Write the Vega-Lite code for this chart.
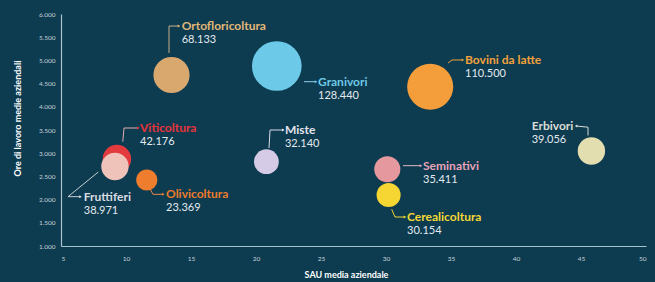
{
  "$schema": "https://vega.github.io/schema/vega-lite/v6.json",
  "width": 585,
  "height": 232,
  "autosize": {"type": "none"},
  "padding": {"left": 61, "top": 14, "right": 9, "bottom": 36},
  "background": "#0D3B50",
  "config": {
    "view": {"stroke": null},
    "font": "Lato",
    "locale": {"number": {"decimal": ",", "thousands": ".", "grouping": [3], "currency": ["€", ""]}}
  },
  "datasets": {
    "settori": [
      {"settore": "Ortofloricoltura", "sau": 13.5, "ore": 4685, "valore": 68133, "lx": 14.28, "ly": 5741},
      {"settore": "Granivori", "sau": 21.6, "ore": 4879, "valore": 128440, "lx": 24.77, "ly": 4541},
      {"settore": "Bovini da latte", "sau": 33.4, "ore": 4433, "valore": 110500, "lx": 36.08, "ly": 5009},
      {"settore": "Erbivori", "sau": 45.8, "ore": 3047, "valore": 39056, "lx": 41.21, "ly": 3586},
      {"settore": "Cerealicoltura", "sau": 30.2, "ore": 2099, "valore": 30154, "lx": 31.62, "ly": 1625},
      {"settore": "Seminativi", "sau": 30.1, "ore": 2653, "valore": 35411, "lx": 32.85, "ly": 2731},
      {"settore": "Miste", "sau": 20.8, "ore": 2817, "valore": 32140, "lx": 22.23, "ly": 3500},
      {"settore": "Viticoltura", "sau": 9.3, "ore": 2875, "valore": 42176, "lx": 11.08, "ly": 3543},
      {"settore": "Fruttiferi", "sau": 9.15, "ore": 2713, "valore": 38971, "lx": 6.75, "ly": 2063},
      {"settore": "Olivicoltura", "sau": 11.6, "ore": 2422, "valore": 23369, "lx": 13.08, "ly": 2114}
    ],
    "connettori": [
      {"settore": "Ortofloricoltura", "ord": 1, "x": 13.31, "y": 5160},
      {"settore": "Ortofloricoltura", "ord": 2, "x": 13.31, "y": 5741},
      {"settore": "Ortofloricoltura", "ord": 3, "x": 14.08, "y": 5741},
      {"settore": "Granivori", "ord": 1, "x": 23.69, "y": 4541},
      {"settore": "Granivori", "ord": 2, "x": 24.62, "y": 4541},
      {"settore": "Bovini da latte", "ord": 1, "x": 34.77, "y": 4944},
      {"settore": "Bovini da latte", "ord": 2, "x": 35.08, "y": 5009},
      {"settore": "Bovini da latte", "ord": 3, "x": 35.92, "y": 5009},
      {"settore": "Erbivori", "ord": 1, "x": 45.54, "y": 3382},
      {"settore": "Erbivori", "ord": 2, "x": 45.54, "y": 3560},
      {"settore": "Erbivori", "ord": 3, "x": 44.62, "y": 3586},
      {"settore": "Seminativi", "ord": 1, "x": 31.31, "y": 2731},
      {"settore": "Seminativi", "ord": 2, "x": 32.69, "y": 2731},
      {"settore": "Cerealicoltura", "ord": 1, "x": 30.44, "y": 1791},
      {"settore": "Cerealicoltura", "ord": 2, "x": 30.69, "y": 1625},
      {"settore": "Cerealicoltura", "ord": 3, "x": 31.46, "y": 1625},
      {"settore": "Miste", "ord": 1, "x": 21.0, "y": 3112},
      {"settore": "Miste", "ord": 2, "x": 21.08, "y": 3500},
      {"settore": "Miste", "ord": 3, "x": 22.1, "y": 3500},
      {"settore": "Viticoltura", "ord": 1, "x": 9.75, "y": 3248},
      {"settore": "Viticoltura", "ord": 2, "x": 9.85, "y": 3543},
      {"settore": "Viticoltura", "ord": 3, "x": 10.95, "y": 3543},
      {"settore": "Fruttiferi", "ord": 1, "x": 7.87, "y": 2595},
      {"settore": "Fruttiferi", "ord": 2, "x": 5.54, "y": 2063},
      {"settore": "Fruttiferi", "ord": 3, "x": 6.5, "y": 2063},
      {"settore": "Olivicoltura", "ord": 1, "x": 11.85, "y": 2229},
      {"settore": "Olivicoltura", "ord": 2, "x": 12.08, "y": 2114},
      {"settore": "Olivicoltura", "ord": 3, "x": 12.87, "y": 2114}
    ],
    "frecce": [
      {"settore": "Ortofloricoltura", "x": 14.08, "y": 5741, "dir": "destra"},
      {"settore": "Granivori", "x": 24.62, "y": 4541, "dir": "destra"},
      {"settore": "Bovini da latte", "x": 35.92, "y": 5009, "dir": "destra"},
      {"settore": "Erbivori", "x": 44.62, "y": 3586, "dir": "sinistra"},
      {"settore": "Seminativi", "x": 32.69, "y": 2731, "dir": "destra"},
      {"settore": "Cerealicoltura", "x": 31.46, "y": 1625, "dir": "destra"},
      {"settore": "Miste", "x": 22.1, "y": 3500, "dir": "destra"},
      {"settore": "Viticoltura", "x": 10.95, "y": 3543, "dir": "destra"},
      {"settore": "Fruttiferi", "x": 6.5, "y": 2063, "dir": "destra"},
      {"settore": "Olivicoltura", "x": 12.87, "y": 2114, "dir": "destra"}
    ]
  },
  "layer": [
    {
      "data": {"name": "connettori"},
      "mark": {"type": "line", "strokeWidth": 1},
      "encoding": {
        "x": {"field": "x", "type": "quantitative", "scale": {"domain": [5, 50], "nice": false, "zero": false},
          "axis": {"tickCount": 10, "title": "SAU media aziendale", "grid": false, "ticks": false, "labelOverlap": false,
            "domainColor": "#A9C3CE", "domainWidth": 1.2, "labelColor": "#C6D3DA", "labelFontSize": 6.5, "labelPadding": 9,
            "titleColor": "#FFFFFF", "titleFontSize": 9, "titleFontWeight": "bold", "titleX": 285, "titleY": 28, "titleBaseline": "middle"}},
        "y": {"field": "y", "type": "quantitative", "scale": {"domain": [1000, 6000], "nice": false, "zero": false},
          "axis": {"tickCount": 11, "labelExpr": "format(datum.value, ',')", "labelOverlap": false, "title": "Ore di lavoro medie aziendali", "grid": false, "ticks": false,
            "domainColor": "#A9C3CE", "domainWidth": 1.2, "labelColor": "#C6D3DA", "labelFontSize": 6.5, "labelPadding": 6,
            "titleColor": "#FFFFFF", "titleFontSize": 9, "titleFontWeight": "bold", "titleX": -44, "titleY": 104, "titleBaseline": "middle", "titleAngle": -90}},
        "detail": {"field": "settore"},
        "order": {"field": "ord"},
        "stroke": {"field": "settore", "legend": null,
          "scale": {"domain": ["Ortofloricoltura", "Granivori", "Bovini da latte", "Erbivori", "Seminativi", "Cerealicoltura", "Miste", "Viticoltura", "Fruttiferi", "Olivicoltura"],
            "range": ["#C9B28E", "#8FD3EA", "#F2A23A", "#D9DDD5", "#E4B8C4", "#F3D835", "#DADCE8", "#E0B0B0", "#C8CDD2", "#EE8A45"]}}
      }
    },
    {
      "data": {"name": "frecce"},
      "mark": {"type": "point", "filled": true, "size": 9, "opacity": 1},
      "encoding": {
        "x": {"field": "x", "type": "quantitative"},
        "y": {"field": "y", "type": "quantitative"},
        "shape": {"field": "dir", "legend": null, "scale": {"domain": ["destra", "sinistra"], "range": ["triangle-right", "triangle-left"]}},
        "color": {"field": "settore", "legend": null}
      }
    },
    {
      "data": {"name": "settori"},
      "mark": {"type": "circle", "opacity": 1},
      "encoding": {
        "x": {"field": "sau", "type": "quantitative"},
        "y": {"field": "ore", "type": "quantitative"},
        "size": {"field": "valore", "type": "quantitative", "legend": null, "scale": {"domain": [0, 130000], "range": [0, 2500], "zero": true}},
        "fill": {"field": "settore", "legend": null,
          "scale": {"domain": ["Ortofloricoltura", "Granivori", "Bovini da latte", "Erbivori", "Seminativi", "Cerealicoltura", "Miste", "Viticoltura", "Fruttiferi", "Olivicoltura"],
            "range": ["#D9A86F", "#6CCAE8", "#F39E3A", "#E2DEB0", "#E5999E", "#F6D632", "#D5CBE6", "#E33A3E", "#EFC3BA", "#EF7D2E"]}}
      }
    },
    {
      "data": {"name": "settori"},
      "mark": {"type": "text", "align": "left", "baseline": "middle", "fontSize": 12, "fontWeight": "bold"},
      "encoding": {
        "x": {"field": "lx", "type": "quantitative"},
        "y": {"field": "ly", "type": "quantitative"},
        "text": {"field": "settore"},
        "color": {"field": "settore", "legend": null,
          "scale": {"domain": ["Ortofloricoltura", "Granivori", "Bovini da latte", "Erbivori", "Seminativi", "Cerealicoltura", "Miste", "Viticoltura", "Fruttiferi", "Olivicoltura"],
            "range": ["#E2B878", "#6FC8E6", "#F2A23A", "#D9DDD5", "#E8A3B8", "#F3D835", "#E3E3EE", "#E8343B", "#D9DCE0", "#EE7B2B"]}}
      }
    },
    {
      "data": {"name": "settori"},
      "mark": {"type": "text", "align": "left", "baseline": "middle", "fontSize": 11, "dy": 14, "color": "#E3EAEE"},
      "encoding": {
        "x": {"field": "lx", "type": "quantitative"},
        "y": {"field": "ly", "type": "quantitative"},
        "text": {"field": "valore", "type": "quantitative", "format": ","}
      }
    }
  ]
}
